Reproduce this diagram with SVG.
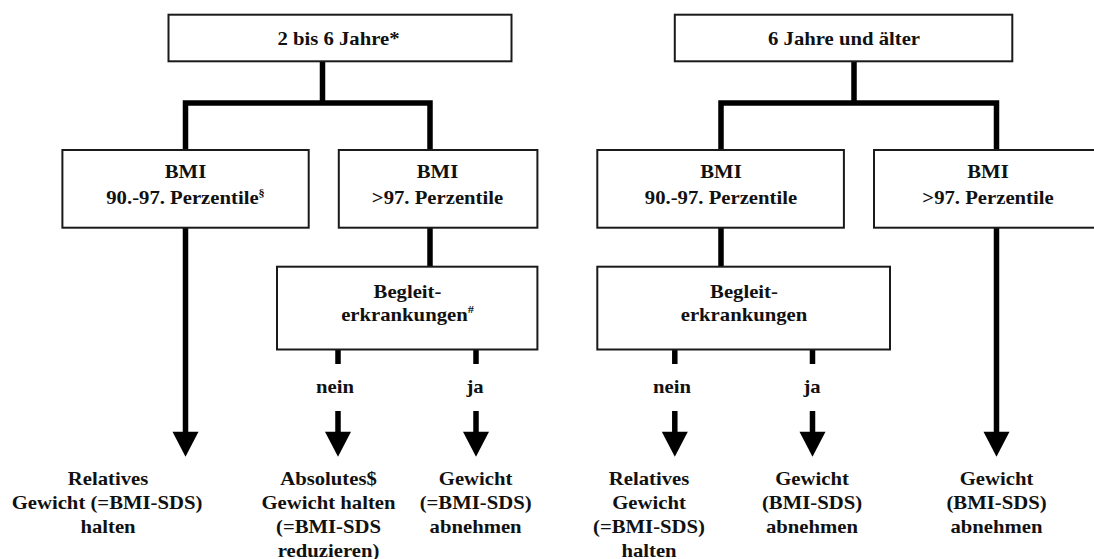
<svg xmlns="http://www.w3.org/2000/svg" width="1094" height="559" viewBox="0 0 1094 559">
<style>
.box{fill:#fff;stroke:#1a1a1a;stroke-width:2}
.ln{fill:none;stroke:#000;stroke-width:5.5;stroke-linejoin:miter;stroke-linecap:butt}
.hd{fill:#000;stroke:none}
text{font-family:"Liberation Serif","Times New Roman",serif;font-weight:bold;font-size:18.5px;fill:#111;text-anchor:middle}
.sup{font-size:11px}
</style>
<rect width="1094" height="559" fill="#fff"/>
<g id="connectors">
<path class="ln" d="M322.5 61 V103 M185.5 150 V103 H430 V150"/>
<path class="ln" d="M430 227.7 V266.7"/>
<path class="ln" d="M338 349.5 V364 M476 349.5 V364"/>
<path class="ln" d="M185.5 227.7 V433"/>
<polygon class="hd" points="172.5,431.7 198.5,431.7 185.5,456.7"/>
<path class="ln" d="M338 411 V433 M476 411 V433"/>
<polygon class="hd" points="325,431.7 351,431.7 338,456.7"/>
<polygon class="hd" points="463,431.7 489,431.7 476,456.7"/>
<path class="ln" d="M854 61 V103 M721 150 V103 H996.5 V150"/>
<path class="ln" d="M721 227.7 V266.7"/>
<path class="ln" d="M674.8 349.5 V364 M812.5 349.5 V364"/>
<path class="ln" d="M674.8 411 V433 M812.5 411 V433"/>
<polygon class="hd" points="661.8,431.7 687.8,431.7 674.8,456.7"/>
<polygon class="hd" points="799.5,431.7 825.5,431.7 812.5,456.7"/>
<path class="ln" d="M996.5 227.7 V433"/>
<polygon class="hd" points="983.5,431.7 1009.5,431.7 996.5,456.7"/>
</g>
<g id="labels">
<text transform="translate(335 393) scale(1.12 1)">nein</text>
<text transform="translate(475 393) scale(1.12 1)">ja</text>
<text transform="translate(672 393) scale(1.12 1)">nein</text>
<text transform="translate(812 393) scale(1.12 1)">ja</text>
</g>
<g id="top-left">
<rect class="box" x="168.5" y="14.7" width="343" height="46.6"/>
<text transform="translate(338.5 45) scale(1.12 1)">2 bis 6 Jahre*</text>
</g>
<g id="top-right">
<rect class="box" x="674.8" y="14.7" width="337.5" height="46.6"/>
<text transform="translate(844 45) scale(1.12 1)">6 Jahre und älter</text>
</g>
<g id="bmi-l1">
<rect class="box" x="62.4" y="150" width="246.3" height="77.7"/>
<text transform="translate(185.5 177.5) scale(1.12 1)">BMI</text>
<text transform="translate(185.5 203.5) scale(1.12 1)">90.-97. Perzentile<tspan class="sup" dy="-8">§</tspan></text>
</g>
<g id="bmi-l2">
<rect class="box" x="338.8" y="150" width="198.6" height="77.7"/>
<text transform="translate(437.5 177.5) scale(1.12 1)">BMI</text>
<text transform="translate(437.5 203.5) scale(1.12 1)">&gt;97. Perzentile</text>
</g>
<g id="bmi-r1">
<rect class="box" x="597.3" y="150" width="246.6" height="77.7"/>
<text transform="translate(721 177.5) scale(1.12 1)">BMI</text>
<text transform="translate(721 203.5) scale(1.12 1)">90.-97. Perzentile</text>
</g>
<g id="bmi-r2">
<rect class="box" x="874" y="150" width="230" height="77.7"/>
<text transform="translate(988 177.5) scale(1.12 1)">BMI</text>
<text transform="translate(988 203.5) scale(1.12 1)">&gt;97. Perzentile</text>
</g>
<g id="begleit-l">
<rect class="box" x="277" y="266.7" width="260.4" height="82.8"/>
<text transform="translate(407.5 298.3) scale(1.12 1)">Begleit-</text>
<text transform="translate(407.5 320.7) scale(1.12 1)">erkrankungen<tspan class="sup" dy="-8">#</tspan></text>
</g>
<g id="begleit-r">
<rect class="box" x="597.3" y="266.7" width="292.7" height="82.8"/>
<text transform="translate(744 298.3) scale(1.12 1)">Begleit-</text>
<text transform="translate(744 320.7) scale(1.12 1)">erkrankungen</text>
</g>
<g id="out-a">
<text transform="translate(108 484.5) scale(1.12 1)">Relatives</text>
<text transform="translate(107 508.5) scale(1.12 1)">Gewicht (=BMI-SDS)</text>
<text transform="translate(108 532.5) scale(1.12 1)">halten</text>
</g>
<g id="out-b">
<text transform="translate(328.5 484.5) scale(1.12 1)">Absolutes$</text>
<text transform="translate(328.5 508.5) scale(1.12 1)">Gewicht halten</text>
<text transform="translate(328.5 532.5) scale(1.12 1)">(=BMI-SDS</text>
<text transform="translate(328.5 556.5) scale(1.12 1)">reduzieren)</text>
</g>
<g id="out-c">
<text transform="translate(475.6 484.5) scale(1.12 1)">Gewicht</text>
<text transform="translate(475.6 508.5) scale(1.12 1)">(=BMI-SDS)</text>
<text transform="translate(475.6 532.5) scale(1.12 1)">abnehmen</text>
</g>
<g id="out-d">
<text transform="translate(649 484.5) scale(1.12 1)">Relatives</text>
<text transform="translate(649 508.5) scale(1.12 1)">Gewicht</text>
<text transform="translate(649 532.5) scale(1.12 1)">(=BMI-SDS)</text>
<text transform="translate(649 556.5) scale(1.12 1)">halten</text>
</g>
<g id="out-e">
<text transform="translate(812 484.5) scale(1.12 1)">Gewicht</text>
<text transform="translate(812 508.5) scale(1.12 1)">(BMI-SDS)</text>
<text transform="translate(812 532.5) scale(1.12 1)">abnehmen</text>
</g>
<g id="out-f">
<text transform="translate(996.5 484.5) scale(1.12 1)">Gewicht</text>
<text transform="translate(996.5 508.5) scale(1.12 1)">(BMI-SDS)</text>
<text transform="translate(996.5 532.5) scale(1.12 1)">abnehmen</text>
</g>
</svg>
